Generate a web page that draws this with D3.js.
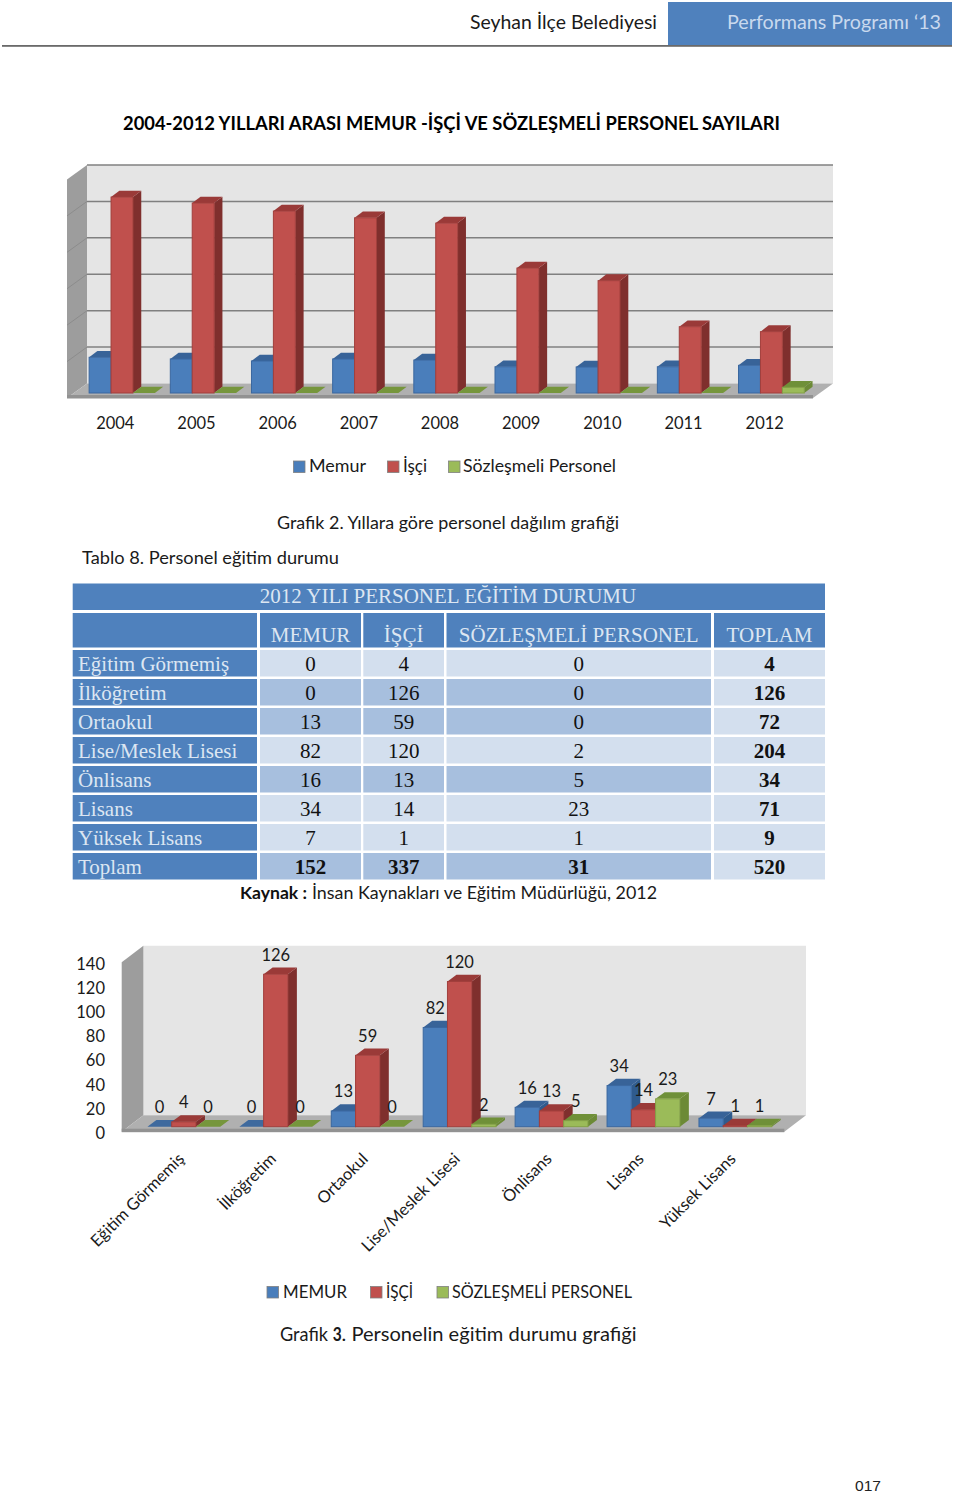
<!DOCTYPE html>
<html><head><meta charset="utf-8">
<script src="https://cdn.jsdelivr.net/npm/d3@7"></script>
<style>html,body{margin:0;padding:0;background:#fff}svg{display:block}</style>
</head><body><svg id="c" width="960" height="1493"></svg>
<script>
// ---- data ----
const years = ["2004","2005","2006","2007","2008","2009","2010","2011","2012"];
const yearMemur = [196,187,176,187,181,144,143,144,152];
const yearIsci = [1076,1043,999,962,933,686,617,364,337];
const yearSozlesmeli = [0,0,0,0,0,0,0,0,31];
const yearGridTicks = [0,200,400,600,800,1000,1200];
const eduCategories = ["Eğitim Görmemiş","İlköğretim","Ortaokul","Lise/Meslek Lisesi","Önlisans","Lisans","Yüksek Lisans"];
const eduMemur = [0,0,13,82,16,34,7];
const eduIsci = [4,126,59,120,13,14,1];
const eduSozlesmeli = [0,0,0,2,5,23,1];
const eduTicks = [0,20,40,60,80,100,120,140];
const tableTitle = "2012 YILI PERSONEL EĞİTİM DURUMU";
const tableHead = ["","MEMUR","İŞÇİ","SÖZLEŞMELİ PERSONEL","TOPLAM"];
const tableLabels = [...eduCategories,"Toplam"];
const tableMemur = [...eduMemur,152];
const tableIsci = [...eduIsci,337];
const tableSoz = [...eduSozlesmeli,31];
const tableTotal = [4,126,72,204,34,71,9,520];
const tableDarkRow = [false,true,true,false,true,false,false,true];

// ---- style ----
const SANS = "Lato, 'Noto Sans', sans-serif", SERIF = "'Liberation Serif', serif";
const colors = [
 {front:"#4a7ebb",top:"#386398",side:"#2f5b8e",flat:"#3f6a9e",stroke:"#3a679f"},
 {front:"#c0504d",top:"#9a3a38",side:"#7f2f2d",flat:"#8f3230",stroke:"#a23f3c"},
 {front:"#9bbb59",top:"#6f9038",side:"#6c8a36",flat:"#76963c",stroke:"#84a147"}];
const svg = d3.select("#c");

function txt(s,x,y,o={}){
  const t=svg.append("text").attr("x",x).attr("y",y).attr("dy",".35em").text(s)
    .attr("font-family",o.family||SANS).attr("font-size",o.size||17)
    .attr("font-weight",o.weight||400).attr("fill",o.fill||"#1a1a1a")
    .attr("text-anchor",o.anchor||"start");
  if(o.width) t.attr("textLength",o.width).attr("lengthAdjust","spacingAndGlyphs");
  return t;
}
const poly=(g,pts,fill,stroke)=>g.append("polygon").attr("points",pts.map(p=>p.join(",")).join(" "))
  .attr("fill",fill).attr("stroke",stroke||"none").attr("stroke-width",stroke?1:0);

function bars3d(g,cats,series,x,y,cfg){
  const w=x.bandwidth()/3, base=y(0)-cfg.inY;
  cats.forEach((c,i)=>series.forEach((vals,s)=>{
    const v=vals[i], c0=colors[s], xl=x(c)+cfg.inX+w*s, xr=xl+w, top=y(v)-cfg.inY, dx=cfg.dx, dy=cfg.dy;
    if(v===0){ poly(g,[[xl,base],[xr,base],[xr+dx,base-dy],[xl+dx,base-dy]],c0.flat); return; }
    poly(g,[[xr,base],[xr+dx,base-dy],[xr+dx,top-dy],[xr,top]],c0.side);
    poly(g,[[xl,top],[xl+dx,top-dy],[xr+dx,top-dy],[xr,top]],c0.top);
    g.append("rect").attr("x",xl).attr("y",top).attr("width",w).attr("height",base-top)
      .attr("fill",c0.front).attr("stroke",c0.stroke).attr("stroke-width",1);
  }));
}
function shell(g,cfg){
  const {x0,x1,yFront,yTop,dx,dy}=cfg;
  poly(g,[[x0+dx,yTop-dy],[x1+dx,yTop-dy],[x1+dx,yFront-dy],[x0+dx,yFront-dy]],"#e5e5e5");
  poly(g,[[x0,yTop],[x0+dx,yTop-dy],[x0+dx,yFront-dy],[x0,yFront]],"#9d9d9d");
  poly(g,[[x0,yFront],[x0+dx,yFront-dy],[x1+dx,yFront-dy],[x1,yFront]],"#b0b0b0");
  g.append("rect").attr("x",x0).attr("y",yFront-3).attr("width",x1-x0).attr("height",3.5).attr("fill","#929292");
}
function legend(items,y,size,family){
  items.forEach((it,i)=>{
    svg.append("rect").attr("x",it.sx).attr("y",y-5.5).attr("width",11.5).attr("height",11.5)
      .attr("fill",colors[i].front).attr("stroke","#7f7f7f").attr("stroke-width",.8);
    txt(it.label,it.tx,y,{size,width:it.w});
  });
}

// ---- page header ----
svg.append("rect").attr("x",668).attr("y",2).attr("width",284).attr("height",43).attr("fill","#4f81bd");
svg.append("rect").attr("x",2).attr("y",45).attr("width",950).attr("height",1.8).attr("fill","#6a6a6a");
txt("Seyhan İlçe Belediyesi",470,22,{size:19,width:187});
txt("Performans Programı ‘13",727,22,{size:19,width:214,fill:"#c9d9ee"});
txt("2004-2012 YILLARI ARASI MEMUR -İŞÇİ VE SÖZLEŞMELİ PERSONEL SAYILARI",123,123,{size:19,weight:700,width:657,fill:"#000"});

// ---- chart 1 ----
const c1={x0:67,x1:813,yFront:398,yTop:179.5,dx:20,dy:14.5,inX:6.7,inY:5};
const g1=svg.append("g");
shell(g1,c1);
const x1=d3.scaleBand().domain(years).range([c1.x0,c1.x1]).padding(.19);
const y1=d3.scaleLinear().domain([0,1200]).range([c1.yFront,c1.yTop]);
g1.selectAll(".g").data(yearGridTicks.slice(1)).join("line")
  .attr("x1",c1.x0+c1.dx).attr("x2",c1.x1+c1.dx).attr("y1",d=>y1(d)-c1.dy).attr("y2",d=>y1(d)-c1.dy)
  .attr("stroke","#808080").attr("stroke-width",1.5);
g1.selectAll(".w").data(yearGridTicks.slice(1,-1)).join("line")
  .attr("x1",c1.x0).attr("x2",c1.x0+c1.dx).attr("y1",d=>y1(d)).attr("y2",d=>y1(d)-c1.dy)
  .attr("stroke","#8c8c8c").attr("stroke-width",1);
bars3d(g1,years,[yearMemur,yearIsci,yearSozlesmeli],x1,y1,{...c1,dx:8.3,dy:6.3});
svg.append("g").attr("transform","translate(0,423)").call(d3.axisBottom(x1).tickSize(0))
  .call(a=>a.select(".domain").remove())
  .call(a=>a.selectAll("text").attr("font-family",SANS).attr("font-size",16.5).attr("fill","#1a1a1a").attr("y",0).attr("dy",".35em"));
legend([{sx:293.5,tx:309,label:"Memur",w:57},{sx:387.5,tx:403,label:"İşçi",w:24},{sx:448.5,tx:463,label:"Sözleşmeli Personel",w:153}],466.5,17);
txt("Grafik 2. Yıllara göre personel dağılım grafiği",277,523,{size:17,width:342});
txt("Tablo 8.  Personel eğitim durumu",82,558,{size:17,width:257});

// ---- table ----
const colX=[72.7,260,363.3,446.5,714], colR=[257,361,444,711,825];
const rowY=d3.range(8).map(d3.scaleLinear().domain([0,7]).range([650,853]));
const HEAD="#4f81bd", LIGHT="#d3dfee", DARK="#a7bfde";
const cell=(x,y,w,h,f)=>svg.append("rect").attr("x",x).attr("y",y).attr("width",w).attr("height",h).attr("fill",f);
cell(72.7,583.5,752.3,26.5,HEAD);
txt(tableTitle,448,596,{family:SERIF,size:21,fill:"#dce6f2",anchor:"middle"});
tableHead.forEach((h,i)=>{
  cell(colX[i],613,colR[i]-colX[i],34.5,HEAD);
  if(h) txt(h,(colX[i]+colR[i])/2,635,{family:SERIF,size:21,fill:"#dce6f2",anchor:"middle"});
});
tableLabels.forEach((lab,r)=>{
  const y=rowY[r], h=26.5, cy=y+14, vals=[tableMemur[r],tableIsci[r],tableSoz[r],tableTotal[r]];
  cell(colX[0],y,colR[0]-colX[0],h,HEAD);
  txt(lab,78,cy,{family:SERIF,size:21,fill:"#dce6f2"});
  vals.forEach((v,c)=>{
    cell(colX[c+1],y,colR[c+1]-colX[c+1],h,(c<3&&tableDarkRow[r])?DARK:LIGHT);
    txt(v,(colX[c+1]+colR[c+1])/2,cy,{family:SERIF,size:21,fill:"#111",anchor:"middle",weight:(c===3||r===7)?700:400});
  });
});
txt("Kaynak :",240,893,{size:17,weight:700,width:67,fill:"#111"});
txt("İnsan Kaynakları ve Eğitim Müdürlüğü,  2012",312,893,{size:17,width:345});

// ---- chart 2 ----
const c2={x0:121.7,x1:784.3,yFront:1131.7,yTop:962.3,dx:21.7,dy:16.5,inX:6.6,inY:5};
const g2=svg.append("g");
shell(g2,c2);
const x2=d3.scaleBand().domain(eduCategories).range([c2.x0,c2.x1]).padding(.208);
const y2=d3.scaleLinear().domain([0,140]).range([c2.yFront,c2.yTop]);
const eduSeries=[eduMemur,eduIsci,eduSozlesmeli];
bars3d(g2,eduCategories,eduSeries,x2,y2,{...c2,dx:9,dy:6.7});
svg.append("g").attr("transform","translate(105,0)").call(d3.axisLeft(y2).tickValues(eduTicks).tickSize(0).tickPadding(0))
  .call(a=>a.select(".domain").remove())
  .call(a=>a.selectAll("text").attr("font-family",SANS).attr("font-size",16.5).attr("fill","#1a1a1a").attr("y",1).attr("dy",".35em"));
eduSeries.forEach((vals,s)=>vals.forEach((v,i)=>{
  const w=x2.bandwidth()/3;
  txt(v,x2(eduCategories[i])+c2.inX+w*(s+.5),y2(v)-c2.inY-19.5,{size:16.5,anchor:"middle"});
}));
svg.append("g").attr("transform","translate(0,1160)").call(d3.axisBottom(x2).tickSize(0))
  .call(a=>a.select(".domain").remove())
  .call(a=>a.selectAll("text").attr("font-family",SANS).attr("font-size",16.5).attr("fill","#1a1a1a")
     .attr("text-anchor","end").attr("y",0).attr("x",0).attr("dy",0)
     .attr("transform","translate(8,0) rotate(-45)"));
legend([{sx:267,tx:283,label:"MEMUR",w:64},{sx:370.5,tx:386,label:"İŞÇİ",w:27},{sx:437,tx:452,label:"SÖZLEŞMELİ PERSONEL",w:180}],1292,17);
txt("Grafik ",280,1334,{size:19,width:48});
txt("3",332.7,1334,{size:19,weight:700,width:9});
txt(". Personelin eğitim durumu grafiği",341.5,1334,{size:19,width:295});
txt("017",855,1486,{family:"'Liberation Sans',sans-serif",size:15,width:26,fill:"#222"});
</script></body></html>
